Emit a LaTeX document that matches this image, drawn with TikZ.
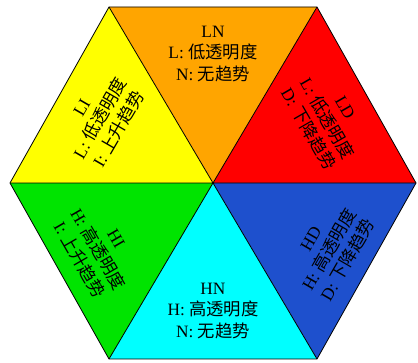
\documentclass[tikz,border=0pt]{standalone}
\usepackage{fontspec}
\setmainfont{Liberation Serif}
\newfontfamily\cjk{Noto Sans CJK SC}
\usepackage{tikz}
\usepackage{xcolor}
\definecolor{segorange}{RGB}{255, 165, 0}
\definecolor{segred}{RGB}{255, 0, 0}
\definecolor{segblue}{RGB}{30, 80, 205}
\definecolor{segcyan}{RGB}{0, 255, 255}
\definecolor{seggreen}{RGB}{0, 228, 0}
\definecolor{segyellow}{RGB}{255, 255, 0}

\begin{document}
\begin{tikzpicture}[x=0.75pt, y=-0.75pt,
    seg/.style={draw=black, line width=0.6pt, line join=miter},
    lab/.style={align=center, font=\fontsize{13}{16}\selectfont, inner sep=0pt}]
    \useasboundingbox (0,0) rectangle (418,363);
    % hexagon corners
    \coordinate (o) at (213, 183);
    \coordinate (tl) at (109, 7);
    \coordinate (tr) at (317, 7);
    \coordinate (r) at (416, 183);
    \coordinate (br) at (317, 359);
    \coordinate (bl) at (109, 359);
    \coordinate (l) at (10, 183);
    % six segments
    \fill[segorange] (o) -- (tl) -- (tr) -- cycle;
    \fill[segred] (o) -- (tr) -- (r) -- cycle;
    \fill[segblue] (o) -- (r) -- (br) -- cycle;
    \fill[segcyan] (o) -- (br) -- (bl) -- cycle;
    \fill[seggreen] (o) -- (bl) -- (l) -- cycle;
    \fill[segyellow] (o) -- (l) -- (tl) -- cycle;
    \draw[seg] (tl) -- (tr) -- (r) -- (br) -- (bl) -- (l) -- cycle;
    \draw[seg] (tl) -- (br) (tr) -- (bl) (l) -- (r);
    % labels
    \node[lab] (ln) at (213, 54) {LN\\L: {\cjk 低透明度}\\N: {\cjk 无趋势}};
    \node[lab, rotate=-60] (ld) at (326, 119) {LD\\L: {\cjk 低透明度}\\D: {\cjk 下降趋势}};
    \node[lab, rotate=60] (hd) at (330, 250) {HD\\H: {\cjk 高透明度}\\D: {\cjk 下降趋势}};
    \node[lab] (hn) at (213, 311) {HN\\H: {\cjk 高透明度}\\N: {\cjk 无趋势}};
    \node[lab, rotate=-60] (hi) at (97, 250) {HI\\H: {\cjk 高透明度}\\I: {\cjk 上升趋势}};
    \node[lab, rotate=60] (li) at (101, 119) {LI\\L: {\cjk 低透明度}\\I: {\cjk 上升趋势}};
\end{tikzpicture}
\end{document}
